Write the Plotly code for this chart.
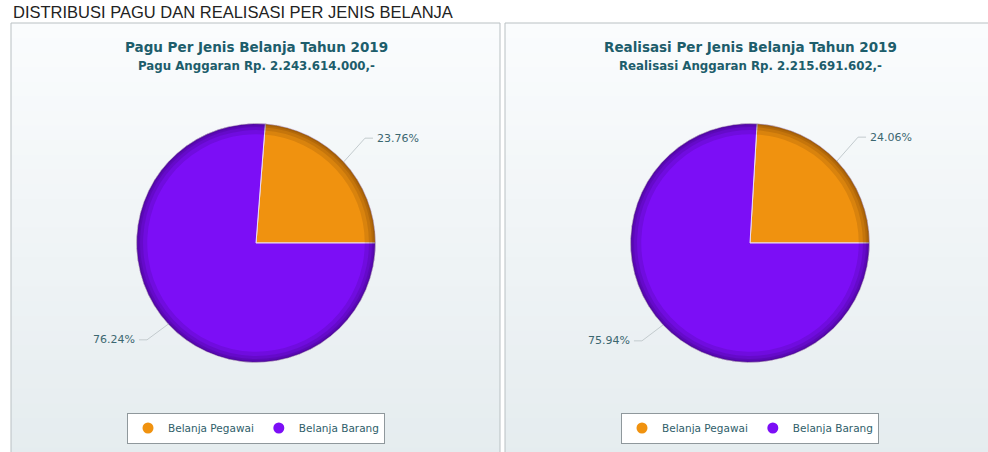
import math
import plotly.graph_objects as go

# data
categories = ["Belanja Pegawai", "Belanja Barang"]
pagu_pct = [23.76, 76.24]
realisasi_pct = [24.06, 75.94]
colors = ["#f0920f", "#7c0ef6"]

page_title = "DISTRIBUSI PAGU DAN REALISASI PER JENIS BELANJA"
panel_titles = ["Pagu Per Jenis Belanja Tahun 2019", "Realisasi Per Jenis Belanja Tahun 2019"]
panel_subtitles = ["Pagu Anggaran Rp. 2.243.614.000,-", "Realisasi Anggaran Rp. 2.215.691.602,-"]

W, H = 988, 452


def fx(x):
    return x / W


def fy(y):
    return 1 - y / H


fig = go.Figure()
shapes = []
annotations = []

# panel frames with a soft vertical gradient
panels = [(11, 500), (505, 1000)]
n_strips = 30
top, bottom = 23, 462
c0, c1 = (250, 252, 253), (229, 236, 239)
for (x0, x1) in panels:
    for i in range(n_strips):
        t = i / (n_strips - 1)
        col = "rgb({},{},{})".format(*[round(a + (b - a) * t) for a, b in zip(c0, c1)])
        ya = top + (bottom - top) * i / n_strips
        yb = top + (bottom - top) * (i + 1) / n_strips + 1
        shapes.append(dict(type="rect", xref="paper", yref="paper", layer="below",
                           x0=fx(x0), x1=fx(x1), y0=fy(min(yb, bottom)), y1=fy(ya),
                           line=dict(width=0), fillcolor=col))
    shapes.append(dict(type="rect", xref="paper", yref="paper", layer="below",
                       x0=fx(x0), x1=fx(x1), y0=fy(bottom + 10), y1=fy(top),
                       line=dict(color="#b9c0c3", width=1), fillcolor="rgba(0,0,0,0)"))

centers = [(256, 243), (750, 243)]
r = 119.5
series = [pagu_pct, realisasi_pct]

for k, (vals, (cx, cy)) in enumerate(zip(series, centers)):
    total = sum(vals)
    angles = [v / total * 360 for v in vals]
    # Pegawai slice ends at 3 o'clock, drawn clockwise
    rot = 90 - angles[0]
    dom = dict(x=[fx(cx - r), fx(cx + r)], y=[fy(cy + r), fy(cy - r)])
    fig.add_trace(go.Pie(labels=categories, values=vals, sort=False, direction="clockwise",
                         rotation=rot, textinfo="none", showlegend=False, domain=dom,
                         marker=dict(colors=colors, line=dict(color="#eadcf2", width=1)),
                         hoverinfo="label+percent"))
    # darker rim to mimic the radial shading
    for hole in [0.91, 0.945, 0.97, 0.985]:
        fig.add_trace(go.Pie(labels=categories, values=vals, sort=False, direction="clockwise",
                             rotation=rot, textinfo="none", showlegend=False, domain=dom,
                             hole=hole, hoverinfo="skip",
                             marker=dict(colors=["rgba(40,10,0,0.11)", "rgba(20,0,40,0.11)"],
                                         line=dict(width=0))))

    # outside labels with bent connectors
    start = rot
    for v, a in zip(vals, angles):
        mid = math.radians(start + a / 2)
        start += a
        s, c = math.sin(mid), math.cos(mid)
        ex, ey = cx + r * s, cy - r * c
        bx, by = cx + (r + 29) * s, cy - (r + 29) * c - 4
        side = 1 if s >= 0 else -1
        hx = bx + 8 * side
        shapes.append(dict(type="path", xref="paper", yref="paper", layer="above",
                           path="M {} {} L {} {} L {} {}".format(fx(ex), fy(ey), fx(bx), fy(by), fx(hx), fy(by)),
                           line=dict(color="#c3cbce", width=1)))
        annotations.append(dict(xref="paper", yref="paper", x=fx(hx + 2 * side), y=fy(by),
                                xanchor="left" if side > 0 else "right", yanchor="middle",
                                text="{:.2f}%".format(v), showarrow=False,
                                font=dict(family="DejaVu Sans", size=11, color="#3b6770")))

    annotations.append(dict(xref="paper", yref="paper", x=fx(cx), y=fy(47), xanchor="center",
                            yanchor="middle", text="<b>" + panel_titles[k] + "</b>", showarrow=False,
                            font=dict(family="DejaVu Sans", size=13.5, color="#1d5d6b")))
    annotations.append(dict(xref="paper", yref="paper", x=fx(cx), y=fy(66), xanchor="center",
                            yanchor="middle", text="<b>" + panel_subtitles[k] + "</b>", showarrow=False,
                            font=dict(family="DejaVu Sans", size=11.8, color="#1d5d6b")))

    # legend entries with round markers
    leg = "legend" if k == 0 else "legend2"
    for name, col in zip(categories, colors):
        fig.add_trace(go.Scatter(x=[None], y=[None], mode="markers", name=name, legend=leg,
                                 marker=dict(color=col, size=11, symbol="circle",
                                             line=dict(color="#ffffff", width=0))))

annotations.append(dict(xref="paper", yref="paper", x=fx(11), y=fy(12), xanchor="left",
                        yanchor="middle", text=page_title, showarrow=False,
                        font=dict(family="Liberation Sans", size=16.5, color="#222222")))

legend_style = dict(orientation="h", xanchor="center", yanchor="middle", bgcolor="#ffffff",
                    bordercolor="#8f989c", borderwidth=1, itemclick=False,
                    font=dict(family="DejaVu Sans", size=10.5, color="#30606a"))

fig.update_layout(
    width=W, height=H,
    margin=dict(l=0, r=0, t=0, b=0),
    paper_bgcolor="#ffffff",
    plot_bgcolor="rgba(0,0,0,0)",
    xaxis=dict(visible=False, range=[0, 1]),
    yaxis=dict(visible=False, range=[0, 1]),
    shapes=shapes,
    annotations=annotations,
    legend=dict(x=fx(centers[0][0]), y=fy(428), **legend_style),
    legend2=dict(x=fx(centers[1][0]), y=fy(428), **legend_style),
)

fig.write_html("out.html", config={"displayModeBar": False},
               post_script="document.body.style.margin='0';")
